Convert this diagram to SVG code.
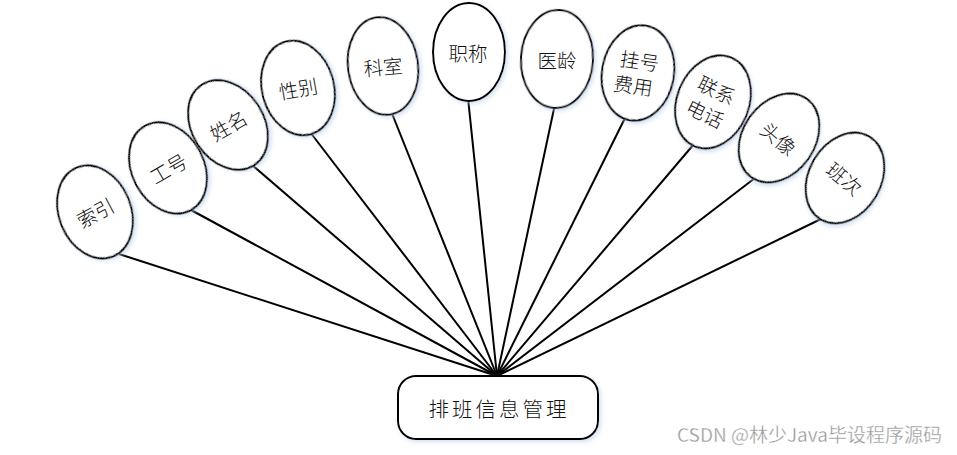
<svg xmlns="http://www.w3.org/2000/svg" width="957" height="455" viewBox="0 0 957 455">
<defs>
<filter id="sh" x="-20%" y="-20%" width="140%" height="140%">
<feDropShadow dx="2" dy="2" stdDeviation="2" flood-color="#b8cdea" flood-opacity="0.6"/>
</filter>
</defs>
<style>
.n ellipse{fill:#fff;stroke:#000;stroke-width:2;filter:url(#sh)}
.n text{font-family:"Noto Sans CJK SC","Noto Sans",sans-serif;font-size:19.5px;font-weight:300;fill:#111;text-anchor:middle;dominant-baseline:central}
.c line{stroke:#000;stroke-width:2}
</style>
<rect width="957" height="455" fill="#fff"/>
<g id="connectors" class="c">
<line x1="119" y1="254" x2="497" y2="376"/>
<line x1="191" y1="210" x2="497" y2="376"/>
<line x1="251" y1="164" x2="497" y2="376"/>
<line x1="310" y1="132" x2="497" y2="376"/>
<line x1="391" y1="111" x2="497" y2="376"/>
<line x1="468" y1="98" x2="497" y2="376"/>
<line x1="555" y1="104" x2="497" y2="376"/>
<line x1="626" y1="116" x2="497" y2="376"/>
<line x1="694" y1="144" x2="497" y2="376"/>
<line x1="755" y1="178" x2="497" y2="376"/>
<line x1="821" y1="219" x2="497" y2="376"/>
</g>
<g id="n-suoyin" class="n" transform="translate(95,212) rotate(-22)"><ellipse rx="36" ry="48"/><text transform="rotate(-6)">索引</text></g>
<g id="n-gonghao" class="n" transform="translate(168,168) rotate(-28)"><ellipse rx="36" ry="48"/><text transform="rotate(-2)">工号</text></g>
<g id="n-xingming" class="n" transform="translate(228,125) rotate(-33)"><ellipse rx="36" ry="48"/><text transform="rotate(3)">姓名</text></g>
<g id="n-xingbie" class="n" transform="translate(298,88) rotate(-15)"><ellipse rx="36" ry="48"/><text transform="rotate(5)">性别</text></g>
<g id="n-keshi" class="n" transform="translate(383,66) rotate(-8)"><ellipse rx="35" ry="49"/><text transform="rotate(3)">科室</text></g>
<g id="n-zhicheng" class="n" transform="translate(469,52)"><ellipse rx="36" ry="49"/><text x="-1">职称</text></g>
<g id="n-yiling" class="n" transform="translate(557,59) rotate(3)"><ellipse rx="36" ry="49"/><text transform="rotate(-3)">医龄</text></g>
<g id="n-guahao" class="n" transform="translate(638,73) rotate(10)"><ellipse rx="36" ry="48"/><text y="-13" transform="rotate(-2)">挂号</text><text y="12" x="-3" transform="rotate(-2)">费用</text></g>
<g id="n-lianxi" class="n" transform="translate(713,102) rotate(22)"><ellipse rx="36" ry="48"/><text y="-13" x="-2" transform="rotate(4)">联系</text><text y="13" x="-2" transform="rotate(4)">电话</text></g>
<g id="n-touxiang" class="n" transform="translate(779,138) rotate(35)"><ellipse rx="36" ry="48"/><text transform="rotate(5)">头像</text></g>
<g id="n-banci" class="n" transform="translate(845,178) rotate(30)"><ellipse rx="36" ry="48"/><text transform="rotate(10)">班次</text></g>
<g id="n-main">
<rect x="398" y="376" width="200" height="63" rx="18" fill="#fff" stroke="#000" stroke-width="2" filter="url(#sh)"/>
<text x="499" y="408" font-family="Noto Sans CJK SC, sans-serif" font-size="20.5" font-weight="300" letter-spacing="3" text-anchor="middle" dominant-baseline="central" fill="#111">排班信息管理</text>
</g>
<text x="942" y="442" font-family="Noto Sans CJK SC, sans-serif" font-size="19" text-anchor="end" fill="#999" stroke="#fff" stroke-width="0.3">CSDN @林少Java毕设程序源码</text>
</svg>
